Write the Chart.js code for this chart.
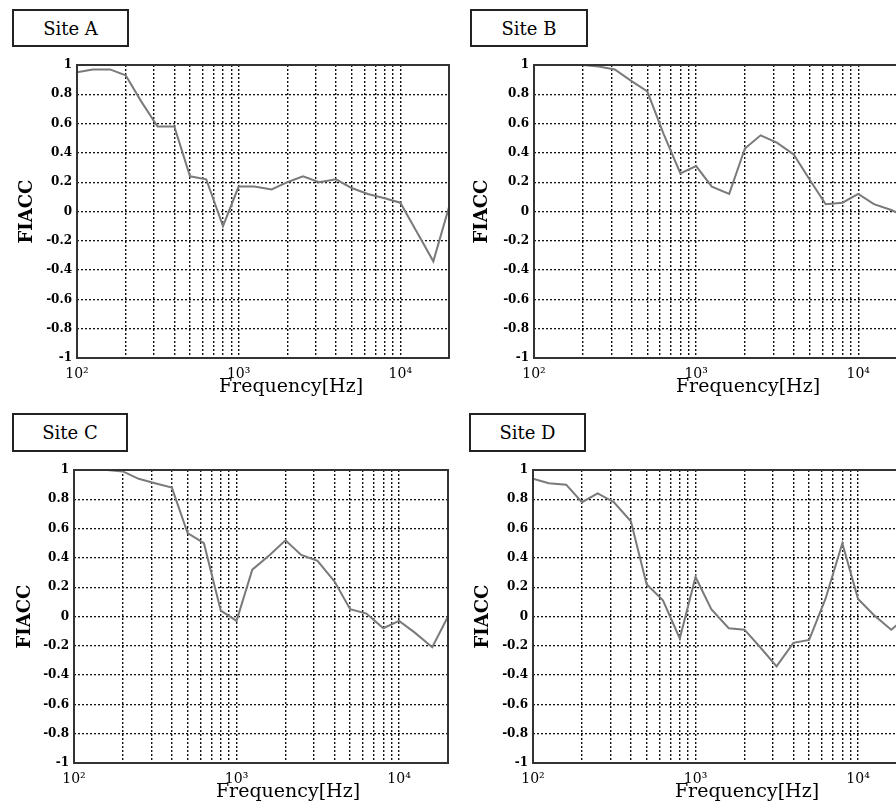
<!DOCTYPE html>
<html>
<head>
<meta charset="utf-8">
<script src="https://cdn.jsdelivr.net/npm/chart.js@4.4.1/dist/chart.umd.min.js"></script>
<style>
  body { margin: 0; width: 896px; height: 806px; overflow: hidden; background: #fff; position: relative; font-family: "DejaVu Serif", serif; }
  .site { position: absolute; box-sizing: border-box; border: 2px solid #222; font-size: 18px; color: #000;
          display: flex; align-items: center; justify-content: center; }
  canvas { position: absolute; }
</style>
</head>
<body>
<div class="site" style="left:12px;top:9px;width:117px;height:38px">Site A</div>
<div class="site" style="left:470px;top:9px;width:118px;height:38px">Site B</div>
<div class="site" style="left:12px;top:413px;width:116px;height:39px">Site C</div>
<div class="site" style="left:469px;top:413px;width:117px;height:39px">Site D</div>

<canvas id="chartA" width="460" height="360" style="left:0;top:45px"></canvas>
<canvas id="chartB" width="472" height="360" style="left:446px;top:45px"></canvas>
<canvas id="chartC" width="459" height="356" style="left:0;top:450px"></canvas>
<canvas id="chartD" width="472" height="356" style="left:446px;top:450px"></canvas>

<script>
// 1/3-octave band centre frequencies
var freqHz = [100, 125, 160, 200, 250, 315, 400, 500, 630, 800, 1000, 1250, 1600, 2000,
              2500, 3150, 4000, 5000, 6300, 8000, 10000, 12500, 16000, 20000];

var siteA = [0.95, 0.97, 0.97, 0.93, 0.75, 0.58, 0.58, 0.24, 0.22, -0.10, 0.17, 0.17, 0.15, 0.20,
             0.24, 0.20, 0.22, 0.16, 0.12, 0.09, 0.06, -0.13, -0.34, 0.03];
var siteB = [1.00, 1.00, 1.00, 1.00, 0.99, 0.97, 0.89, 0.82, 0.53, 0.26, 0.31, 0.17, 0.12, 0.43,
             0.52, 0.47, 0.39, 0.22, 0.05, 0.06, 0.12, 0.05, 0.01, -0.04];
var siteC = [1.00, 1.00, 1.00, 0.99, 0.94, 0.91, 0.88, 0.57, 0.50, 0.04, -0.03, 0.32, 0.42, 0.52,
             0.42, 0.38, 0.24, 0.05, 0.02, -0.08, -0.03, -0.11, -0.21, 0.00];
var siteD = [0.94, 0.91, 0.90, 0.78, 0.84, 0.78, 0.65, 0.22, 0.11, -0.15, 0.27, 0.05, -0.08, -0.09,
             -0.21, -0.34, -0.18, -0.16, 0.12, 0.50, 0.12, 0.01, -0.09, 0.00];

// grid positions on the log axis, and which of them carry a label
var xGridHz = [100, 200, 300, 400, 500, 600, 700, 800, 900, 1000, 2000, 3000, 4000, 5000,
               6000, 7000, 8000, 9000, 10000, 20000];
var decadeTicks = [100, 1000, 10000];
var decadeText = ['10\u00b2', '10\u00b3', '10\u2074'];
var yTickValues = [-1, -0.8, -0.6, -0.4, -0.2, 0, 0.2, 0.4, 0.6, 0.8, 1];

var serif = '"DejaVu Serif", serif';

// box round the plot area plus the frequency caption
var framePlugin = {
  id: 'frame',
  afterDraw: function(chart) {
    var a = chart.chartArea, ctx = chart.ctx;
    ctx.save();
    ctx.setLineDash([]);
    ctx.strokeStyle = '#333';
    ctx.lineWidth = 2;
    ctx.strokeRect(a.left, a.top, a.right - a.left, a.bottom - a.top);
    ctx.font = '19px ' + serif;
    ctx.fillStyle = '#000';
    ctx.textAlign = 'center';
    ctx.textBaseline = 'middle';
    ctx.fillText('Frequency[Hz]', a.left + 214, a.bottom + 29);
    ctx.restore();
  }
};

function yLabel(v) {
  if (Math.abs(v) < 1e-9) return '0';
  if (Math.abs(Math.abs(v) - 1) < 1e-9) return v > 0 ? '1' : '-1';
  return v.toFixed(1);
}

function makePanel(id, values, yAxisWidth, titlePad, xAxisHeight) {
  var points = freqHz.map(function(f, i) { return { x: f, y: values[i] }; });
  new Chart(document.getElementById(id).getContext('2d'), {
    type: 'line',
    data: {
      datasets: [{
        data: points,
        borderColor: '#7a7a7a',
        borderWidth: 2,
        pointRadius: 0,
        tension: 0
      }]
    },
    plugins: [framePlugin],
    options: {
      responsive: false,
      animation: false,
      devicePixelRatio: 1,
      layout: { padding: { top: 20, right: 11, left: 0, bottom: 0 } },
      plugins: { legend: { display: false }, tooltip: { enabled: false } },
      scales: {
        x: {
          type: 'logarithmic',
          min: 100,
          max: 20000,
          afterBuildTicks: function(s) { s.ticks = xGridHz.map(function(v) { return { value: v }; }); },
          afterFit: function(s) { s.height = xAxisHeight; },
          grid: { color: '#111', lineWidth: 1.4, drawTicks: false, borderDash: [2, 2] },
          border: { display: false, dash: [2, 2] },
          ticks: {
            autoSkip: false,
            maxRotation: 0,
            minRotation: 0,
            padding: 8,
            color: '#000',
            font: { family: serif, size: 14 },
            callback: function(v) {
              var k = decadeTicks.indexOf(v);
              return k >= 0 ? decadeText[k] : '';
            }
          }
        },
        y: {
          min: -1,
          max: 1,
          afterBuildTicks: function(s) { s.ticks = yTickValues.map(function(v) { return { value: v }; }); },
          afterFit: function(s) { s.width = yAxisWidth; },
          grid: { color: '#111', lineWidth: 1.3, drawTicks: false, borderDash: [2, 2] },
          border: { display: false, dash: [2, 2] },
          title: {
            display: true,
            text: 'FIACC',
            color: '#000',
            font: { family: serif, size: 18, weight: 'bold' },
            padding: { top: titlePad, bottom: 0 }
          },
          ticks: {
            padding: 5,
            color: '#000',
            font: { family: serif, size: 12, weight: 'bold' },
            callback: yLabel
          }
        }
      }
    }
  });
}

makePanel('chartA', siteA, 77, 17, 47);
makePanel('chartB', siteB, 88, 26, 47);
makePanel('chartC', siteC, 74, 15, 43);
makePanel('chartD', siteD, 87, 27, 43);
</script>
</body>
</html>
